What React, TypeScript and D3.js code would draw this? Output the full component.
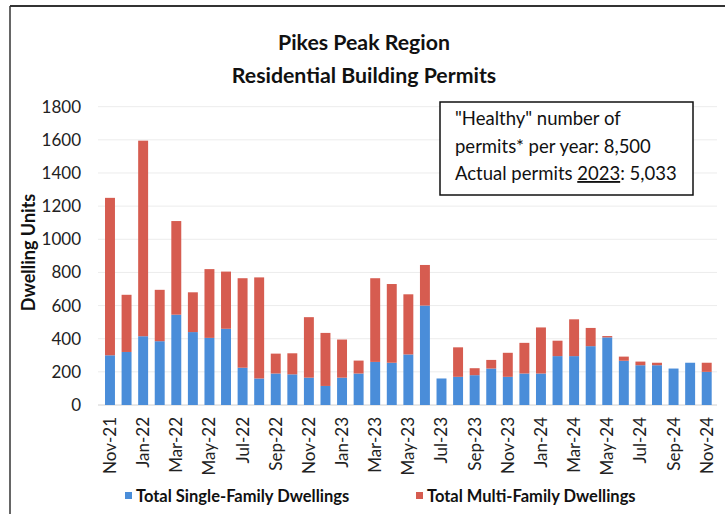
import React from "react";
import * as d3 from "d3";

const months = [
  "Nov-21","Dec-21","Jan-22","Feb-22","Mar-22","Apr-22","May-22","Jun-22","Jul-22","Aug-22","Sep-22","Oct-22",
  "Nov-22","Dec-22","Jan-23","Feb-23","Mar-23","Apr-23","May-23","Jun-23","Jul-23","Aug-23","Sep-23","Oct-23",
  "Nov-23","Dec-23","Jan-24","Feb-24","Mar-24","Apr-24","May-24","Jun-24","Jul-24","Aug-24","Sep-24","Oct-24","Nov-24",
];
const singleFamily = [
  300, 320, 415, 385, 545, 440, 405, 460, 225, 160, 190, 185,
  165, 115, 165, 190, 260, 255, 305, 600, 160, 170, 180, 220,
  170, 190, 190, 295, 295, 355, 408, 267, 240, 240, 220, 255, 200,
];
const multiFamily = [
  950, 345, 1180, 310, 565, 240, 415, 345, 540, 610, 120, 127,
  365, 320, 230, 78, 505, 475, 363, 245, 0, 178, 42, 52,
  145, 185, 278, 93, 222, 110, 8, 25, 22, 15, 0, 0, 55,
];
const yTicks = [0, 200, 400, 600, 800, 1000, 1200, 1400, 1600, 1800];
const titleLines = ["Pikes Peak Region", "Residential Building Permits"];
const seriesNames = ["Total Single-Family Dwellings", "Total Multi-Family Dwellings"];

const BLUE = "#4a8dd9";
const RED = "#d65c50";
const FONT = "Lato, 'Open Sans', sans-serif";

export default function App() {
  const W = 725, H = 514;
  const x = d3.scaleBand<string>().domain(months).range([101.7, 715]).paddingInner(0.4).paddingOuter(0.2);
  const y = d3.scaleLinear().domain([0, 1800]).range([405, 106.7]);
  const data = months.map((m, i) => ({ m, sf: singleFamily[i], mf: multiFamily[i] }));
  const stack = d3.stack<any>().keys(["sf", "mf"])(data);
  const colors = [BLUE, RED];
  const labelMonths = months.filter((_, i) => i % 2 === 0);

  return (
    <svg width={W} height={H} style={{ position: "absolute", left: 0, top: 0, background: "#fff" }} fontFamily={FONT}>
      <rect x={0} y={0} width={W} height={H} fill="#fff" />
      {/* frame */}
      <line x1={10} y1={6} x2={W} y2={6} stroke="#333" strokeWidth={2} />
      <line x1={10} y1={6} x2={10} y2={H} stroke="#333" strokeWidth={1.5} />

      {/* title */}
      {titleLines.map((t, i) => (
        <text key={t} x={364} y={50 + i * 33} textAnchor="middle" fontSize={21.3} fontWeight="bold" fill="#111">{t}</text>
      ))}

      {/* gridlines */}
      {yTicks.map((t) => (
        <line key={t} x1={98} x2={717} y1={y(t)} y2={y(t)} stroke={t === 0 ? "#d0d0d0" : "#ececec"} strokeWidth={1} />
      ))}
      {yTicks.map((t) => (
        <text key={"l" + t} x={81} y={y(t)} dy="0.35em" textAnchor="end" fontSize={17} fill="#222">{t}</text>
      ))}
      <text transform={`translate(29,${y(920)}) rotate(-90)`} dy="0.35em" textAnchor="middle" fontSize={18} fontWeight="bold" fill="#111">Dwelling Units</text>

      {/* bars */}
      {stack.map((s, si) => (
        <g key={si} fill={colors[si]}>
          {s.map((d: any, i: number) => (
            <rect key={i} x={x(months[i])} width={x.bandwidth()} y={y(d[1])} height={Math.max(0, y(d[0]) - y(d[1]))} />
          ))}
        </g>
      ))}

      {/* x labels */}
      {labelMonths.map((m) => (
        <text key={m} transform={`translate(${(x(m) as number) + x.bandwidth() / 2},417) rotate(-90)`} dy="0.35em" textAnchor="end" fontSize={17} fill="#222">{m}</text>
      ))}

      {/* annotation box */}
      <rect x={440} y={102} width={253} height={93} fill="#fff" stroke="#111" strokeWidth={1.5} />
      <text x={455} y={125} fontSize={18.5} fill="#111">"Healthy" number of</text>
      <text x={455} y={153} fontSize={18.5} fill="#111">permits* per year: 8,500</text>
      <text x={455} y={180} fontSize={18.5} fill="#111">
        Actual permits <tspan textDecoration="underline">2023</tspan>: 5,033
      </text>

      {/* legend */}
      {seriesNames.map((n, i) => (
        <g key={n} transform={`translate(${i === 0 ? 125 : 416},496)`}>
          <rect x={0} y={-4} width={7} height={7} fill={colors[i]} />
          <text x={11} y={0} dy="0.35em" fontSize={16.5} fontWeight="bold" fill="#111">{n}</text>
        </g>
      ))}
    </svg>
  );
}
